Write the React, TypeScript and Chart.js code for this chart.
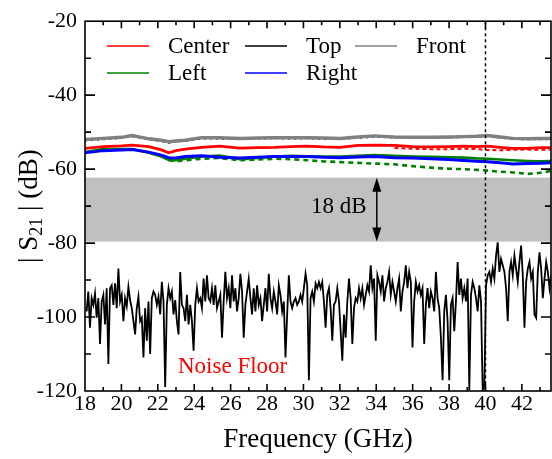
import React, { useEffect, useRef } from "react";
import { Chart, registerables } from "chart.js";
Chart.register(...registerables);

const FREQ = [18, 19, 20, 20.6, 21.5, 22.2, 22.6, 23, 23.5, 24.4, 25.4, 26.5, 27.5, 28.4, 29.3, 30.2, 31.1, 32, 33, 33.9, 35, 36, 37, 38, 38.8, 39.5, 40.1, 40.8, 41.5, 42.3, 43, 43.6];
const CENTER = [-54.4, -53.9, -53.7, -53.5, -53.9, -54.8, -55.6, -55.0, -54.6, -54.1, -53.8, -54.3, -54.2, -54.1, -53.9, -53.8, -54.0, -54.1, -53.6, -53.5, -53.6, -53.9, -54.0, -53.9, -53.8, -53.9, -53.8, -54.1, -54.4, -54.4, -54.2, -54.2];
const TOP = [-52.3, -52.0, -51.6, -51.2, -52.0, -52.5, -52.9, -52.6, -52.4, -51.8, -51.8, -51.9, -51.8, -51.7, -51.8, -51.7, -51.9, -51.9, -51.6, -51.3, -51.5, -51.6, -51.6, -51.5, -51.4, -51.4, -51.1, -51.5, -51.9, -52.0, -52.0, -51.9];
const FRONT = [-52.0, -51.7, -51.4, -50.9, -51.8, -52.2, -52.6, -52.4, -52.2, -51.5, -51.5, -51.7, -51.6, -51.5, -51.5, -51.5, -51.6, -51.7, -51.3, -51.0, -51.3, -51.4, -51.4, -51.3, -51.2, -51.1, -50.9, -51.3, -51.7, -51.8, -51.7, -51.7];
const LEFT = [-55.4, -54.6, -54.6, -54.6, -55.6, -56.6, -57.5, -57.6, -57.2, -56.6, -56.3, -57.3, -57.0, -56.6, -56.4, -56.5, -56.6, -56.6, -56.4, -56.2, -56.4, -56.6, -56.7, -56.8, -56.9, -57.1, -57.2, -57.4, -57.6, -57.8, -57.9, -57.8];
const RIGHT = [-55.6, -55.0, -54.8, -54.7, -55.4, -56.2, -56.9, -57.0, -56.6, -56.4, -56.8, -57.0, -56.8, -56.6, -56.6, -56.6, -56.8, -56.9, -56.7, -56.6, -56.9, -57.0, -57.2, -57.4, -57.7, -57.9, -58.0, -58.3, -58.6, -58.5, -58.4, -58.3];
// second (dashed) traces
const LEFT_B_FREQ = [22.6, 23, 23.5, 24.4, 25.4, 26.5, 27.5, 28.4, 29.3, 30.2, 31.1, 32, 33, 33.9, 35, 36, 37, 38, 38.8, 39.5, 40.1, 40.8, 41.5, 42.3, 43, 43.6];
const LEFT_B = [-57.6, -57.9, -57.6, -57.2, -57.0, -57.6, -57.4, -57.2, -57.3, -57.6, -57.9, -58.1, -58.3, -58.5, -58.7, -59.2, -59.6, -59.9, -60.0, -60.2, -60.4, -60.7, -60.9, -61.3, -61.0, -60.5];
const CENTER_B_FREQ = [35, 36, 37, 38, 38.8, 39.5, 40.1, 40.8, 41.5, 42.3, 43, 43.6];
const CENTER_B = [-54.3, -54.5, -54.6, -54.6, -54.5, -54.6, -54.8, -54.9, -54.8, -54.7, -54.8, -54.7];

const NOISE_START = 18.09;
const NOISE_STEP = 0.0918;
const NOISE = [
  -98.5, -93.1, -102.9, -94.9, -96.7, -93.6, -100.2, -94.9, -107.3, -95.8,
  -94.0, -102.0, -92.2, -112.7, -92.2, -91.4, -96.7, -90.9, -97.6, -86.9,
  -95.8, -94.0, -101.1, -94.9, -97.1, -91.8, -95.4, -97.6, -101.1, -104.7,
  -97.6, -94.5, -101.1, -100.2, -110.9, -97.6, -106.4, -95.8, -110.0, -94.9,
  -93.1, -94.0, -96.7, -94.5, -99.3, -90.5, -95.8, -118.9, -96.7, -92.2,
  -94.9, -93.1, -99.3, -95.4, -101.1, -104.7, -87.8, -96.7, -97.6, -101.1,
  -94.0, -102.0, -96.7, -101.1, -109.1, -96.7, -92.2, -95.8, -94.9, -97.6,
  -89.6, -95.8, -88.7, -94.9, -95.8, -92.2, -96.7, -91.4, -97.6, -95.8,
  -94.0, -105.6, -95.8, -87.8, -94.9, -92.2, -97.6, -88.7, -95.8, -92.2,
  -98.5, -94.9, -88.3, -93.1, -105.6, -96.7, -93.1, -89.6, -94.9, -99.3,
  -92.2, -98.5, -91.4, -96.7, -94.9, -101.1, -96.7, -92.2, -98.5, -88.3,
  -94.9, -97.6, -93.1, -95.8, -99.3, -91.4, -94.0, -98.5, -95.8, -110.9,
  -99.3, -88.7, -95.8, -97.6, -95.8, -94.9, -96.7, -95.8, -94.0, -95.8,
  -92.2, -88.3, -91.4, -117.1, -94.9, -93.1, -95.8, -90.9, -92.2, -90.5,
  -92.2, -90.5, -95.8, -102.9, -94.0, -92.2, -97.6, -106.4, -96.7, -95.8,
  -92.2, -95.8, -103.8, -111.8, -99.3, -105.6, -95.8, -89.6, -94.9, -107.3,
  -97.6, -94.9, -95.8, -92.2, -94.9, -92.2, -96.7, -94.0, -91.4, -93.1,
  -86.0, -92.2, -89.6, -106.4, -88.7, -90.5, -93.1, -88.7, -95.8, -92.2,
  -90.5, -87.8, -94.0, -90.5, -93.1, -95.8, -92.2, -89.6, -98.5, -93.1,
  -90.5, -86.0, -92.2, -87.8, -90.5, -108.2, -95.8, -90.5, -93.1, -91.4,
  -94.0, -92.2, -107.3, -96.7, -92.2, -97.6, -93.1, -94.9, -98.5, -87.8,
  -94.9, -97.6, -105.6, -117.1, -98.5, -94.0, -101.1, -117.1, -96.7, -94.9,
  -103.8, -95.8, -85.1, -94.0, -89.6, -94.9, -92.2, -95.8, -89.6, -119.8,
  -94.0, -90.5, -92.2, -94.9, -98.5, -91.4, -95.8, -119.8, -118.9, -91.4,
  -88.7, -87.8, -90.5, -86.9, -89.6, -83.4, -79.8, -87.8, -84.3, -86.0,
  -87.8, -92.2, -101.1, -87.8, -85.1, -88.7, -83.4, -86.9, -90.5, -85.1,
  -80.7, -88.7, -102.9, -90.5, -86.9, -85.1, -89.6, -87.8, -99.3, -100.2,
  -87.8, -82.5, -86.9, -94.9, -89.6, -85.1, -87.8, -92.2, -88.7,
];

const X_MIN = 18, X_MAX = 43.6, X_STEP = 2;
const Y_MIN = -120, Y_MAX = -20, Y_STEP = 20;
const BAND_TOP = -62.3, BAND_BOTTOM = -79.6;
const MARKER_FREQ = 40;
const ARROW_FREQ = 34.03;
const LEGEND = [
  { label: "Center", color: "#ff0000", row: 0, col: 0 },
  { label: "Top", color: "#000000", row: 0, col: 1 },
  { label: "Front", color: "#808080", row: 0, col: 2 },
  { label: "Left", color: "#008000", row: 1, col: 0 },
  { label: "Right", color: "#0000ff", row: 1, col: 1 },
];

const SERIF = '"Liberation Serif", "Times New Roman", serif';

const pts = (xs: number[], ys: number[]) => ys.map((v, i) => ({ x: xs[i], y: v }));

const decoPlugin = {
  id: "deco",
  beforeDatasetsDraw(chart: any) {
    const { ctx, chartArea: a, scales } = chart;
    const y = scales.y;
    const yt = y.getPixelForValue(BAND_TOP);
    const yb = y.getPixelForValue(BAND_BOTTOM);
    ctx.save();
    ctx.fillStyle = "#c0c0c0";
    ctx.fillRect(a.left, yt, a.right - a.left, yb - yt);
    ctx.restore();
  },
  afterDatasetsDraw(chart: any) {
    const { ctx, chartArea: a, scales } = chart;
    const x = scales.x, y = scales.y;
    ctx.save();
    const xm = x.getPixelForValue(MARKER_FREQ);
    ctx.strokeStyle = "#000";
    ctx.lineWidth = 1.5;
    ctx.setLineDash([3, 3]);
    ctx.beginPath();
    ctx.moveTo(xm, a.top);
    ctx.lineTo(xm, a.bottom);
    ctx.stroke();
    ctx.setLineDash([]);

    const xa = x.getPixelForValue(ARROW_FREQ);
    const yt = y.getPixelForValue(BAND_TOP);
    const yb = y.getPixelForValue(BAND_BOTTOM);
    ctx.lineWidth = 1.5;
    ctx.beginPath();
    ctx.moveTo(xa, yt + 8);
    ctx.lineTo(xa, yb - 8);
    ctx.stroke();
    ctx.fillStyle = "#000";
    ctx.beginPath();
    ctx.moveTo(xa, yt);
    ctx.lineTo(xa - 4.5, yt + 14);
    ctx.lineTo(xa + 4.5, yt + 14);
    ctx.closePath();
    ctx.fill();
    ctx.beginPath();
    ctx.moveTo(xa, yb);
    ctx.lineTo(xa - 4.5, yb - 14);
    ctx.lineTo(xa + 4.5, yb - 14);
    ctx.closePath();
    ctx.fill();

    ctx.font = `23px ${SERIF}`;
    ctx.textBaseline = "alphabetic";
    ctx.textAlign = "left";
    ctx.fillStyle = "#000";
    ctx.fillText("18 dB", 311, 213);

    ctx.fillStyle = "#ff0000";
    ctx.fillText("Noise Floor", 178, 373);

    const colX = [107, 245, 355];
    const rowY = [46, 73];
    LEGEND.forEach((l) => {
      const lx = colX[l.col];
      const ly = rowY[l.row];
      ctx.strokeStyle = l.color;
      ctx.lineWidth = 1.5;
      ctx.beginPath();
      ctx.moveTo(lx, ly);
      ctx.lineTo(lx + 42, ly);
      ctx.stroke();
      ctx.fillStyle = "#000";
      ctx.fillText(l.label, lx + 61, ly + 7);
    });
    ctx.restore();
  },
  afterDraw(chart: any) {
    const { ctx, chartArea: a, scales } = chart;
    const x = scales.x, y = scales.y;
    ctx.save();
    ctx.strokeStyle = "#000";
    ctx.lineWidth = 1.6;
    ctx.strokeRect(a.left, a.top, a.right - a.left, a.bottom - a.top);
    ctx.beginPath();
    for (let v = X_MIN; v <= X_MAX + 1e-6; v += 1) {
      const px = x.getPixelForValue(v);
      if (px <= a.left + 1 || px >= a.right - 1) continue;
      const len = Math.round(v) % 2 === 0 ? 7 : 4;
      ctx.moveTo(px, a.bottom);
      ctx.lineTo(px, a.bottom - len);
      ctx.moveTo(px, a.top);
      ctx.lineTo(px, a.top + len);
    }
    for (let v = Y_MIN; v <= Y_MAX; v += 10) {
      const py = y.getPixelForValue(v);
      if (py <= a.top + 1 || py >= a.bottom - 1) continue;
      const len = v % 20 === 0 ? 10 : 6;
      ctx.moveTo(a.left, py);
      ctx.lineTo(a.left + len, py);
      ctx.moveTo(a.right, py);
      ctx.lineTo(a.right - len, py);
    }
    ctx.stroke();

    ctx.fillStyle = "#000";
    ctx.textBaseline = "alphabetic";
    ctx.textAlign = "center";
    ctx.font = `27px ${SERIF}`;
    ctx.fillText("Frequency (GHz)", (a.left + a.right) / 2, 447);

    ctx.translate(28, (a.top + a.bottom) / 2);
    ctx.rotate(-Math.PI / 2);
    ctx.textAlign = "left";
    const parts = [
      { t: "| S", f: 27, dy: 0 },
      { t: "21", f: 18, dy: 5 },
      { t: " | (dB)", f: 27, dy: 0 },
    ];
    let total = 0;
    parts.forEach((p) => {
      ctx.font = `${p.f}px ${SERIF}`;
      total += ctx.measureText(p.t).width;
    });
    let cx = -total / 2;
    parts.forEach((p) => {
      ctx.font = `${p.f}px ${SERIF}`;
      ctx.fillText(p.t, cx, 9 + p.dy);
      cx += ctx.measureText(p.t).width;
    });
    ctx.restore();
  },
};

export default function App() {
  const ref = useRef<HTMLCanvasElement | null>(null);
  useEffect(() => {
    document.body.style.margin = "0";
    const canvas = ref.current;
    if (!canvas) return;
    const noisePts = NOISE.map((v, i) => ({ x: NOISE_START + i * NOISE_STEP, y: v }));
    const line = (label: string, data: any[], color: string, width: number, dash: number[] = []) => ({
      label,
      data,
      borderColor: color,
      backgroundColor: color,
      borderWidth: width,
      borderDash: dash,
      pointRadius: 0,
      tension: 0,
      fill: false,
    });
    const chart = new Chart(canvas, {
      type: "line",
      data: {
        datasets: [
          line("Center", pts(FREQ, CENTER), "#ff0000", 2.8),
          line("Center b", pts(CENTER_B_FREQ, CENTER_B), "#ff0000", 2, [4, 3]),
          line("Right", pts(FREQ, RIGHT), "#0000ff", 3),
          line("Left", pts(FREQ, LEFT), "#008000", 2.6),
          line("Left b", pts(LEFT_B_FREQ, LEFT_B), "#008000", 2.6, [5, 4]),
          line("Front", pts(FREQ, FRONT), "#808080", 3.4),
          line("Top", pts(FREQ, TOP), "#000000", 1.6, [2, 4]),
          line("Noise", noisePts, "#000000", 1.8),
        ],
      },
      options: {
        responsive: false,
        animation: false,
        events: [],
        layout: { padding: { top: 16, right: 1, left: 0, bottom: 0 } },
        plugins: { legend: { display: false }, tooltip: { enabled: false }, title: { display: false } },
        scales: {
          x: {
            type: "linear",
            min: X_MIN,
            max: X_MAX,
            afterFit: (s: any) => { s.height = 68; },
            grid: { display: false, drawTicks: false },
            border: { display: false },
            ticks: {
              stepSize: X_STEP,
              includeBounds: false,
              autoSkip: false,
              maxRotation: 0,
              padding: 0,
              color: "#000",
              font: { family: SERIF, size: 22 },
            },
          },
          y: {
            type: "linear",
            min: Y_MIN,
            max: Y_MAX,
            afterFit: (s: any) => { s.width = 85; },
            grid: { display: false, drawTicks: false },
            border: { display: false },
            ticks: {
              stepSize: Y_STEP,
              padding: 8,
              color: "#000",
              font: { family: SERIF, size: 22 },
            },
          },
        },
      },
      plugins: [decoPlugin],
    } as any);
    return () => chart.destroy();
  }, []);
  return <canvas ref={ref} width={552} height={459} style={{ display: "block" }} />;
}
